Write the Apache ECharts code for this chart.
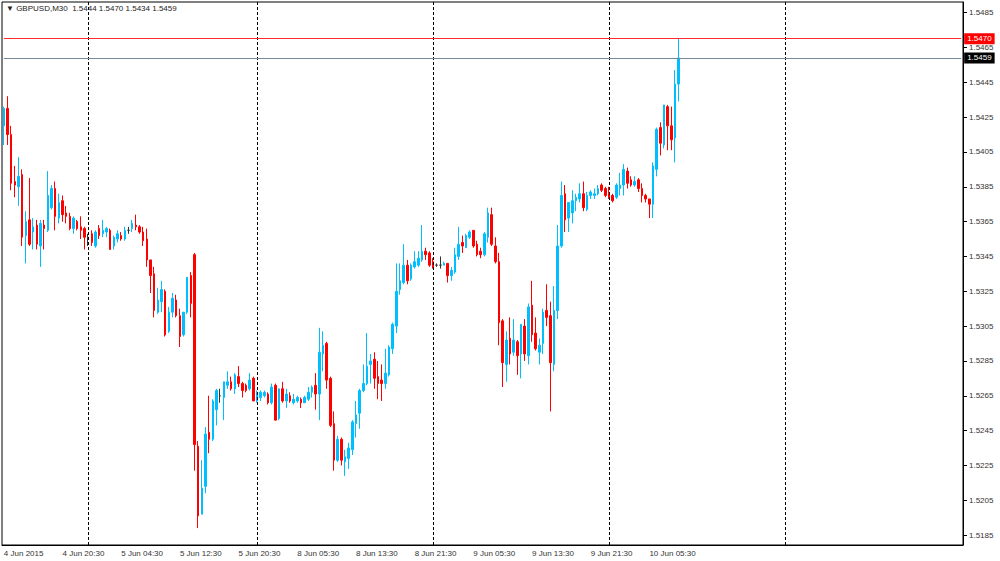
<!DOCTYPE html>
<html>
<head>
<meta charset="utf-8">
<script src="https://cdn.jsdelivr.net/npm/echarts@6/dist/echarts.min.js"></script>
<style>
html,body{margin:0;padding:0;background:#fff;}
#chart{width:1000px;height:561px;}
</style>
</head>
<body>
<div id="chart"></div>
<script>
// ---- data (GBPUSD M30, 4 Jun 2015 12:30 .. 10 Jun 2015 09:30) ----
const opens = [
1.5420,1.5430,1.5415,1.5388,1.5385,1.5392,1.5357,1.5366,1.5359,1.5363,
1.5351,1.5363,1.5360,1.5373,1.5384,1.5367,1.5377,1.5370,1.5368,1.5361,
1.5365,1.5362,1.5361,1.5356,1.5358,1.5351,1.5361,1.5358,1.5359,1.5360,
1.5351,1.5355,1.5357,1.5355,1.5360,1.5361,1.5363,1.5362,1.5359,1.5355,
1.5343,1.5335,1.5313,1.5319,1.5325,1.5302,1.5313,1.5320,1.5311,1.5300,
1.5313,1.5334,1.5346,1.5236,1.5197,1.5213,1.5244,1.5240,1.5257,1.5265,
1.5264,1.5271,1.5273,1.5269,1.5276,1.5272,1.5271,1.5269,1.5275,1.5262,
1.5264,1.5265,1.5266,1.5261,1.5271,1.5252,1.5269,1.5262,1.5265,1.5261,
1.5262,1.5263,1.5261,1.5263,1.5267,1.5271,1.5266,1.5289,1.5295,1.5275,
1.5249,1.5228,1.5240,1.5227,1.5229,1.5234,1.5249,1.5255,1.5268,1.5272,
1.5283,1.5286,1.5276,1.5274,1.5272,1.5277,1.5292,1.5305,1.5326,1.5330,
1.5340,1.5332,1.5339,1.5340,1.5343,1.5348,1.5347,1.5342,1.5340,1.5340,
1.5340,1.5341,1.5334,1.5336,1.5345,1.5353,1.5350,1.5356,1.5360,1.5352,
1.5348,1.5346,1.5356,1.5369,1.5351,1.5342,1.5308,1.5283,1.5298,1.5290,
1.5296,1.5289,1.5305,1.5288,1.5317,1.5301,1.5290,1.5295,1.5314,1.5311,
1.5283,1.5314,1.5351,1.5381,1.5367,1.5370,1.5377,1.5378,1.5381,1.5372,
1.5380,1.5380,1.5381,1.5386,1.5384,1.5381,1.5380,1.5379,1.5384,1.5386,
1.5394,1.5389,1.5386,1.5389,1.5384,1.5380,1.5378,1.5375,1.5395,1.5419,
1.5409,1.5431,1.5420,1.5413,1.5444
];
const highs = [
1.5431,1.5437,1.5420,1.5397,1.5402,1.5395,1.5371,1.5390,1.5367,1.5366,
1.5366,1.5366,1.5394,1.5386,1.5388,1.5381,1.5380,1.5374,1.5370,1.5368,
1.5366,1.5368,1.5362,1.5358,1.5360,1.5360,1.5363,1.5366,1.5362,1.5361,
1.5357,1.5360,1.5359,1.5362,1.5362,1.5366,1.5369,1.5363,1.5362,1.5361,
1.5343,1.5339,1.5327,1.5331,1.5326,1.5316,1.5324,1.5323,1.5315,1.5313,
1.5333,1.5336,1.5347,1.5239,1.5228,1.5247,1.5265,1.5263,1.5269,1.5269,
1.5273,1.5279,1.5276,1.5278,1.5282,1.5273,1.5272,1.5278,1.5276,1.5268,
1.5268,1.5268,1.5267,1.5272,1.5272,1.5269,1.5273,1.5269,1.5267,1.5266,
1.5265,1.5264,1.5265,1.5270,1.5271,1.5278,1.5304,1.5302,1.5296,1.5276,
1.5256,1.5242,1.5241,1.5234,1.5238,1.5251,1.5262,1.5269,1.5283,1.5301,
1.5289,1.5290,1.5285,1.5283,1.5292,1.5294,1.5307,1.5341,1.5341,1.5352,
1.5343,1.5341,1.5348,1.5348,1.5363,1.5350,1.5348,1.5344,1.5341,1.5345,
1.5342,1.5341,1.5339,1.5350,1.5362,1.5357,1.5358,1.5360,1.5360,1.5354,
1.5350,1.5359,1.5373,1.5373,1.5356,1.5347,1.5309,1.5302,1.5310,1.5309,
1.5297,1.5306,1.5309,1.5318,1.5331,1.5310,1.5298,1.5315,1.5329,1.5319,
1.5328,1.5363,1.5388,1.5386,1.5376,1.5383,1.5381,1.5387,1.5388,1.5382,
1.5383,1.5384,1.5386,1.5387,1.5385,1.5385,1.5381,1.5387,1.5393,1.5398,
1.5396,1.5391,1.5391,1.5390,1.5387,1.5381,1.5378,1.5399,1.5419,1.5422,
1.5432,1.5432,1.5431,1.5452,1.5470
];
const lows = [
1.5409,1.5409,1.5383,1.5379,1.5374,1.5351,1.5341,1.5351,1.5349,1.5349,
1.5339,1.5349,1.5359,1.5372,1.5360,1.5364,1.5365,1.5364,1.5360,1.5358,
1.5360,1.5355,1.5349,1.5351,1.5351,1.5350,1.5355,1.5356,1.5356,1.5349,
1.5349,1.5353,1.5354,1.5354,1.5358,1.5359,1.5360,1.5358,1.5351,1.5339,
1.5324,1.5310,1.5312,1.5313,1.5299,1.5301,1.5310,1.5310,1.5293,1.5299,
1.5312,1.5310,1.5222,1.5189,1.5197,1.5209,1.5232,1.5239,1.5248,1.5261,
1.5251,1.5269,1.5268,1.5266,1.5270,1.5264,1.5267,1.5268,1.5262,1.5261,
1.5262,1.5264,1.5260,1.5260,1.5251,1.5251,1.5261,1.5258,1.5261,1.5260,
1.5261,1.5258,1.5261,1.5262,1.5264,1.5257,1.5251,1.5279,1.5269,1.5247,
1.5222,1.5227,1.5225,1.5219,1.5223,1.5231,1.5241,1.5246,1.5267,1.5271,
1.5272,1.5269,1.5263,1.5262,1.5269,1.5276,1.5289,1.5301,1.5323,1.5329,
1.5329,1.5331,1.5338,1.5339,1.5342,1.5343,1.5339,1.5338,1.5339,1.5338,
1.5340,1.5330,1.5331,1.5335,1.5343,1.5347,1.5350,1.5355,1.5350,1.5345,
1.5344,1.5345,1.5353,1.5351,1.5341,1.5294,1.5270,1.5273,1.5283,1.5288,
1.5277,1.5275,1.5285,1.5283,1.5296,1.5291,1.5283,1.5289,1.5305,1.5256,
1.5279,1.5309,1.5350,1.5359,1.5359,1.5364,1.5371,1.5376,1.5371,1.5371,
1.5378,1.5378,1.5380,1.5382,1.5379,1.5378,1.5376,1.5378,1.5380,1.5380,
1.5384,1.5385,1.5385,1.5382,1.5376,1.5376,1.5367,1.5367,1.5391,1.5403,
1.5407,1.5406,1.5406,1.5399,1.5434
];
const closes = [
1.5430,1.5415,1.5387,1.5386,1.5391,1.5356,1.5365,1.5352,1.5362,1.5352,
1.5364,1.5361,1.5380,1.5384,1.5368,1.5376,1.5369,1.5368,1.5361,1.5367,
1.5361,1.5360,1.5356,1.5356,1.5353,1.5359,1.5357,1.5360,1.5361,1.5349,
1.5356,1.5358,1.5355,1.5360,1.5360,1.5364,1.5362,1.5359,1.5354,1.5343,
1.5334,1.5314,1.5320,1.5326,1.5300,1.5313,1.5321,1.5311,1.5299,1.5313,
1.5333,1.5318,1.5237,1.5196,1.5212,1.5243,1.5240,1.5262,1.5268,1.5265,
1.5273,1.5273,1.5269,1.5277,1.5272,1.5268,1.5268,1.5274,1.5262,1.5267,
1.5267,1.5267,1.5261,1.5270,1.5251,1.5269,1.5262,1.5266,1.5262,1.5263,
1.5264,1.5261,1.5264,1.5267,1.5270,1.5266,1.5290,1.5294,1.5274,1.5248,
1.5228,1.5240,1.5228,1.5230,1.5235,1.5250,1.5254,1.5268,1.5272,1.5282,
1.5285,1.5275,1.5272,1.5272,1.5278,1.5293,1.5306,1.5325,1.5331,1.5340,
1.5331,1.5340,1.5342,1.5344,1.5348,1.5346,1.5340,1.5339,1.5340,1.5340,
1.5341,1.5334,1.5337,1.5346,1.5352,1.5351,1.5357,1.5359,1.5351,1.5346,
1.5346,1.5358,1.5370,1.5352,1.5342,1.5307,1.5284,1.5297,1.5289,1.5297,
1.5288,1.5306,1.5289,1.5316,1.5300,1.5292,1.5294,1.5313,1.5310,1.5284,
1.5314,1.5351,1.5380,1.5366,1.5376,1.5377,1.5379,1.5381,1.5373,1.5380,
1.5382,1.5381,1.5384,1.5383,1.5380,1.5379,1.5377,1.5386,1.5386,1.5395,
1.5387,1.5386,1.5388,1.5384,1.5380,1.5378,1.5375,1.5397,1.5418,1.5410,
1.5432,1.5420,1.5412,1.5444,1.5459
];
// trading sessions: [day, first half-hour slot, end slot (exclusive)]; includes empty future space
const sessions = [['4 Jun',25,48],['5 Jun',0,46],['8 Jun',0,48],['9 Jun',0,48],['10 Jun',0,48],['11 Jun',0,48],['12 Jun',0,1]];
const xTickLabels = ['4 Jun 2015','4 Jun 20:30','5 Jun 04:30','5 Jun 12:30','5 Jun 20:30','8 Jun 05:30','8 Jun 13:30','8 Jun 21:30','9 Jun 05:30','9 Jun 13:30','9 Jun 21:30','10 Jun 05:30'];
const yTickLabels = [1.5185,1.5205,1.5225,1.5245,1.5265,1.5285,1.5305,1.5325,1.5345,1.5365,1.5385,1.5405,1.5425,1.5445,1.5465,1.5485];
const daySeparators = ['5 Jun 00:00','8 Jun 00:00','9 Jun 00:00','10 Jun 00:00','11 Jun 00:00'];
const headerText = '\u25BC GBPUSD,M30  1.5444 1.5470 1.5434 1.5459';
const markedHigh = 1.5470;
const bidPrice = 1.5459;

// ---- build ----
const categories = [];
sessions.forEach(function (s) {
  for (let k = s[1]; k < s[2]; k++) {
    const hh = String(Math.floor(k / 2)).padStart(2, '0');
    const mm = k % 2 ? '30' : '00';
    categories.push(s[0] + ' ' + hh + ':' + mm);
  }
});
const candles = opens.map(function (o, i) { return [o, closes[i], lows[i], highs[i]]; });
const LABEL_STEP = 16;
function showTick(i) { return i % LABEL_STEP === 0 && (i / LABEL_STEP) < xTickLabels.length; }

const FONT = 'Liberation Sans';
const firstCat = categories[0];
const lastCat = categories[categories.length - 1];
function priceLine(value, lineColor, boxColor) {
  return [
    { coord: [firstCat, value], lineStyle: { color: lineColor, type: 'solid', width: 1 } },
    { coord: [lastCat, value],
      label: { show: true, position: 'end', distance: 3, formatter: value.toFixed(4), color: '#fff',
               backgroundColor: boxColor, padding: [2, 3, 1, 3], fontSize: 8, fontFamily: FONT } }
  ];
}

const chart = echarts.init(document.getElementById('chart'), null, { renderer: 'svg' });
chart.setOption({
  animation: false,
  backgroundColor: '#ffffff',
  graphic: [{
    type: 'text', left: 6, top: 4,
    style: { text: headerText, font: '8px "Liberation Sans", "DejaVu Sans"', fill: '#222' }
  }],
  grid: { left: 2, top: 2, right: 37, bottom: 16, show: true, borderColor: '#000', borderWidth: 1 },
  xAxis: {
    type: 'category', data: categories, boundaryGap: true,
    axisLine: { lineStyle: { color: '#000', width: 1 } },
    axisTick: { alignWithLabel: true, interval: function (i) { return showTick(i); }, length: 3, lineStyle: { color: '#000' } },
    axisLabel: {
      interval: function (i) { return showTick(i); },
      formatter: function (v, i) { return xTickLabels[i / LABEL_STEP]; },
      align: 'left', margin: 4, fontSize: 8, fontFamily: FONT, color: '#333'
    },
    splitLine: { show: false }
  },
  yAxis: {
    type: 'value', position: 'right', min: 1.51793, max: 1.54911,
    axisLine: { show: true, lineStyle: { color: '#000', width: 1 } },
    axisTick: { show: true, customValues: yTickLabels, length: 4, lineStyle: { color: '#000' } },
    axisLabel: { customValues: yTickLabels, formatter: function (v) { return v.toFixed(4); }, margin: 6, fontSize: 8, fontFamily: FONT, color: '#333' },
    splitLine: { show: false }
  },
  series: [{
    type: 'candlestick',
    data: candles,
    barWidth: 2,
    itemStyle: {
      color: '#00BFFF', color0: '#FF0000',
      borderColor: '#00BFFF', borderColor0: '#FF0000', borderColorDoji: '#333333',
      borderWidth: 1
    },
    markLine: {
      silent: true, symbol: ['none', 'none'], animation: false,
      data: daySeparators.map(function (d) {
        return { xAxis: d, lineStyle: { color: '#000', type: [3, 2], width: 1 }, label: { show: false } };
      })
    }
  }, {
    type: 'line',
    name: 'levels',
    data: [],
    silent: true,
    markLine: {
      silent: true, symbol: ['none', 'none'], animation: false,
      data: [
        priceLine(markedHigh, '#ff2a2a', '#ff0000'),
        priceLine(bidPrice, '#778899', '#000000')
      ]
    }
  }]
});
</script>
</body>
</html>
